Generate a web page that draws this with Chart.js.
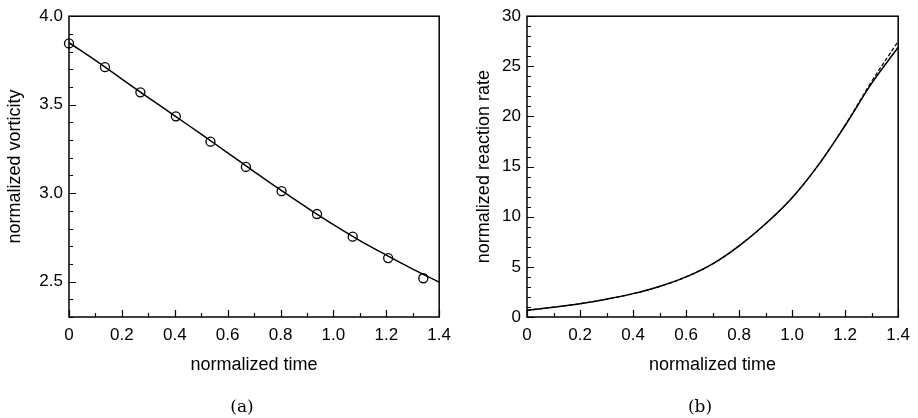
<!DOCTYPE html>
<html><head><meta charset="utf-8">
<script src="https://cdn.jsdelivr.net/npm/chart.js@4/dist/chart.umd.min.js"></script>
<style>
html,body{margin:0;padding:0;background:#fff;}
#wrap{position:relative;width:918px;height:418px;overflow:hidden;}
canvas{position:absolute;top:0;}
#ca{left:0}
#cb{left:459px}
.cap{position:absolute;top:396px;line-height:20px;font-family:"DejaVu Serif",serif;font-size:17px;color:#000;transform:translateX(-50%);white-space:nowrap;}
</style></head><body>
<div id="wrap">
<canvas id="ca" width="459" height="418"></canvas>
<canvas id="cb" width="459" height="418"></canvas>
<div class="cap" style="left:242px">(a)</div>
<div class="cap" style="left:700px">(b)</div>
</div>
<script>
// ---- data ----
const timeTicks = [0, 0.2, 0.4, 0.6, 0.8, 1.0, 1.2, 1.4];
const vortTicks = [2.5, 3.0, 3.5, 4.0];
const rateTicks = [0, 5, 10, 15, 20, 25, 30];

const circleTime = [0, 0.136, 0.270, 0.404, 0.535, 0.669, 0.804, 0.938, 1.073, 1.207, 1.340];
const circleVort = [3.846, 3.712, 3.570, 3.434, 3.291, 3.148, 3.011, 2.882, 2.754, 2.633, 2.519];

const curveTime  = [0, 0.1, 0.2, 0.3, 0.4, 0.5, 0.6, 0.7, 0.8, 0.9, 1.0, 1.1, 1.2, 1.3, 1.4];
const vortCurve  = [3.850, 3.750, 3.645, 3.540, 3.437, 3.333, 3.228, 3.122, 3.018, 2.918, 2.822, 2.732, 2.650, 2.571, 2.497];
const rateSolid  = [0.67, 0.98, 1.33, 1.78, 2.33, 3.05, 4.0, 5.3, 7.1, 9.3, 11.9, 15.2, 19.1, 23.3, 26.9];
const rateDashed = [0.67, 0.98, 1.33, 1.78, 2.33, 3.05, 4.0, 5.3, 7.1, 9.3, 11.9, 15.2, 19.15, 23.5, 27.5];

// ---- helpers ----
const FAM = '"Liberation Sans", Arial, Helvetica, sans-serif';
const pts = (xs, ys) => xs.map((x, i) => ({x: x, y: ys[i]}));

const frameTicks = {
  id: 'frameTicks',
  afterDatasetsDraw(chart, args, o) {
    const {ctx, chartArea: {left, right, top, bottom}, scales: {x, y}} = chart;
    ctx.save();
    ctx.strokeStyle = '#000';
    ctx.lineWidth = 1.2;
    ctx.beginPath();
    const nx = Math.round((x.max - x.min) / o.xMinor);
    for (let i = 0; i <= nx; i++) {
      const v = x.min + i * o.xMinor;
      const major = o.xMajor.some(m => Math.abs(m - v) < 1e-6);
      const px = Math.round(x.getPixelForValue(v)) + 0.5;
      ctx.moveTo(px, bottom);
      ctx.lineTo(px, bottom - (major ? 7 : 4));
    }
    const ny = Math.round((y.max - y.min) / o.yMinor);
    for (let i = 0; i <= ny; i++) {
      const v = y.min + i * o.yMinor;
      const major = o.yMajor.some(m => Math.abs(m - v) < 1e-6);
      const py = Math.round(y.getPixelForValue(v)) + 0.5;
      ctx.moveTo(left, py);
      ctx.lineTo(left + (major ? 7 : 4), py);
    }
    ctx.stroke();
    ctx.lineWidth = 1.5;
    ctx.strokeRect(left, top, right - left, bottom - top);
    ctx.restore();
  }
};

function makeOptions(cfg) {
  return {
    responsive: false,
    animation: false,
    devicePixelRatio: 1,
    events: [],
    layout: {padding: {left: 0, right: cfg.padRight, top: 16, bottom: 0}},
    plugins: {
      legend: {display: false},
      tooltip: {enabled: false},
      frameTicks: {xMinor: 0.1, xMajor: timeTicks, yMinor: cfg.yMinor, yMajor: cfg.yTicks}
    },
    scales: {
      x: {
        type: 'linear', min: 0, max: 1.4,
        afterBuildTicks: s => { s.ticks = timeTicks.map(v => ({value: v})); },
        afterFit: s => { s.height = 101; },
        grid: {display: false, drawTicks: false},
        border: {display: false},
        ticks: {
          callback: v => (v === 0 ? '0' : v.toFixed(1)),
          font: {family: FAM, size: 17}, color: '#000',
          padding: 8, maxRotation: 0, autoSkip: false
        },
        title: {display: true, text: 'normalized time', font: {family: FAM, size: 18}, color: '#000',
                padding: {top: 0, bottom: 42}}
      },
      y: {
        type: 'linear', min: cfg.ymin, max: cfg.ymax,
        afterBuildTicks: s => { s.ticks = cfg.yTicks.map(v => ({value: v})); },
        afterFit: s => { s.width = cfg.yWidth; },
        grid: {display: false, drawTicks: false},
        border: {display: false},
        ticks: {
          callback: cfg.yFmt,
          font: {family: FAM, size: 17}, color: '#000',
          padding: 6, autoSkip: false
        },
        title: {display: true, text: cfg.yTitle, font: {family: FAM, size: 18}, color: '#000',
                padding: {top: cfg.yTitlePad, bottom: 0}}
      }
    }
  };
}

new Chart(document.getElementById('ca'), {
  type: 'line',
  data: {
    datasets: [
      {data: pts(curveTime, vortCurve), borderColor: '#000', borderWidth: 1.5, pointRadius: 0,
       tension: 0.4, fill: false},
      {data: pts(circleTime, circleVort), showLine: false, pointRadius: 4.5, pointBorderWidth: 1.3,
       pointBorderColor: '#000', pointBackgroundColor: 'rgba(0,0,0,0)', clip: false}
    ]
  },
  options: makeOptions({ymin: 2.3, ymax: 4.0, yTicks: vortTicks, yMinor: 0.1,
    yFmt: v => v.toFixed(1), yTitle: 'normalized vorticity', yTitlePad: 4, yWidth: 69, padRight: 16}),
  plugins: [frameTicks]
});

new Chart(document.getElementById('cb'), {
  type: 'line',
  data: {
    datasets: [
      {data: pts(curveTime, rateDashed), borderColor: '#000', borderWidth: 1.2, borderDash: [4, 2],
       pointRadius: 0, tension: 0.4, fill: false},
      {data: pts(curveTime, rateSolid), borderColor: '#000', borderWidth: 1.5, pointRadius: 0,
       tension: 0.4, fill: false}
    ]
  },
  options: makeOptions({ymin: 0, ymax: 30, yTicks: rateTicks, yMinor: 1,
    yFmt: v => String(v), yTitle: 'normalized reaction rate', yTitlePad: 14, yWidth: 68, padRight: 17}),
  plugins: [frameTicks]
});
</script>
</body></html>
